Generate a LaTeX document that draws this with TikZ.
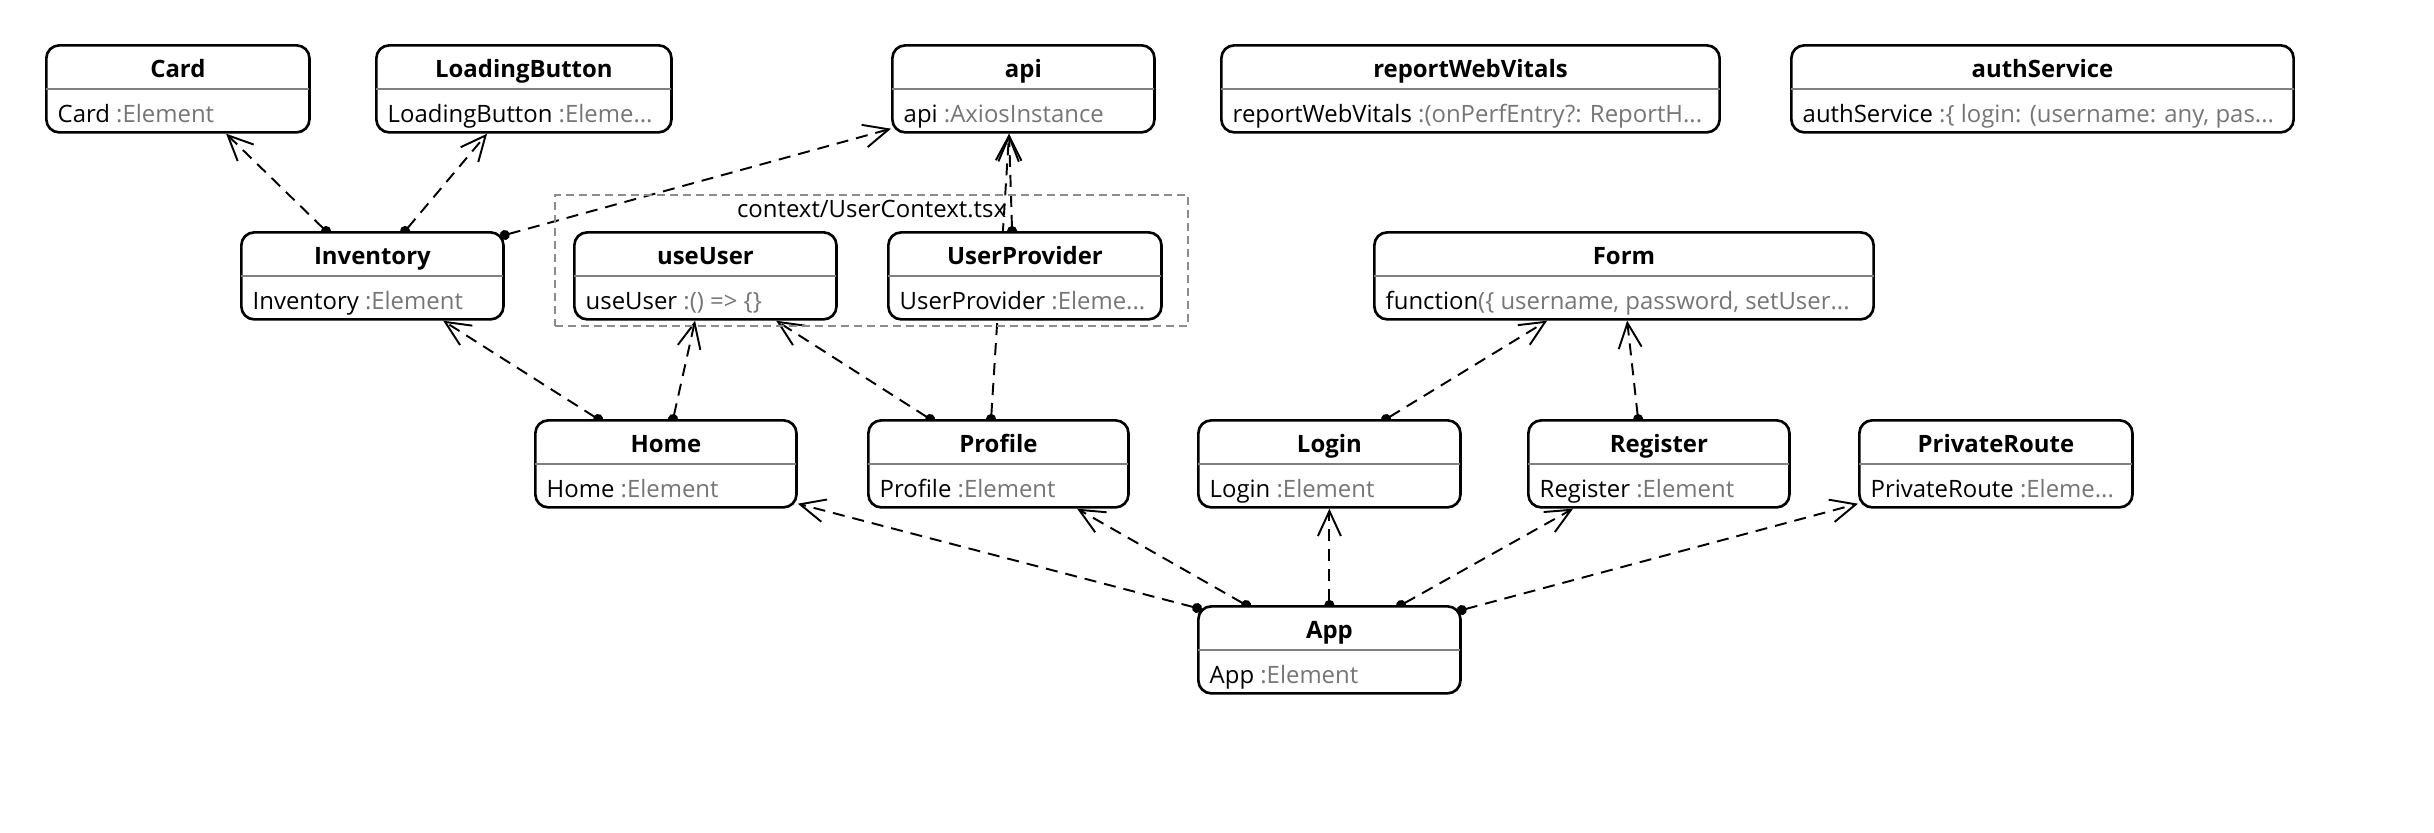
\documentclass[tikz,border=0pt]{standalone}
\usepackage{fontspec}
\setmainfont{Open Sans}
\usepackage{xcolor}
\usetikzlibrary{arrows.meta}
\usetikzlibrary{calc}

\definecolor{typegray}{HTML}{767676}
\definecolor{sepgray}{HTML}{808080}
\definecolor{groupgray}{HTML}{8C8C8C}

\pgfdeclarelayer{background}
\pgfsetlayers{background,main}

\tikzset{
  umlfont/.style={font=\fontsize{6.8}{8}\selectfont},
  classbox/.style={draw, line width=0.75pt, rounded corners=0.13cm, fill=white,
    minimum height=0.87cm, inner sep=0pt, anchor=north west},
  titletext/.style={font=\fontsize{6.8}{8}\selectfont\bfseries, anchor=base, inner sep=0pt},
  bodytext/.style={umlfont, anchor=base west, inner sep=0pt},
  sepline/.style={draw=sepgray, line width=0.75pt},
  grouptext/.style={umlfont, inner sep=0pt},
  groupbox/.style={draw=groupgray, dash pattern=on 0.8mm off 0.5mm, line width=0.5pt,
    inner sep=0pt, anchor=north west},
  uses/.style={dash pattern=on 1.2mm off 0.8mm, line width=0.55pt,
    {Circle[length=1mm]}-{Straight Barb[length=2.5mm,width=2.3mm]}, shorten <=-0.5mm},
}

% name, x, y, width, title, value, type
\newcommand{\classbox}[7]{%
  \node[classbox, minimum width=#4cm] (#1) at (#2,#3) {};
  \node[titletext] (#1title) at ([yshift=-0.33cm]#1.north) {#5};
  \draw[sepline] ([yshift=-0.45cm,xshift=0.4pt]#1.north west) -- ([yshift=-0.45cm,xshift=-0.4pt]#1.north east);
  \node[bodytext] (#1body) at ([xshift=0.12cm,yshift=0.11cm]#1.south west) {#6\textcolor{typegray}{#7}};
}

\begin{document}
\begin{tikzpicture}[x=0.01cm, y=-0.01cm, umlfont]
  \useasboundingbox (0,0) rectangle (2434,832);

  % file group
  \node[groupbox, minimum width=6.33cm, minimum height=1.31cm] (usercontext) at (554,194) {};
  \node[grouptext] (usercontextlabel) at ([yshift=-0.15cm]usercontext.north) {context/UserContext.tsx};

  % top row
  \classbox{card}{45}{44}{2.63}{Card}{Card }{:Element}
  \classbox{loadingbutton}{375}{44}{2.95}{LoadingButton}{LoadingButton }{:Eleme...}
  \classbox{api}{891}{44}{2.62}{api}{api }{:AxiosInstance}
  \classbox{reportwebvitals}{1220}{44}{4.98}{reportWebVitals}{reportWebVitals }{:(onPerfEntry?: ReportH...}
  \classbox{authservice}{1790}{44}{5.02}{authService}{authService }{:\{ login: (username: any, pas...}

  % middle row
  \classbox{inventory}{240}{231}{2.62}{Inventory}{Inventory }{:Element}
  \classbox{useuser}{573}{231}{2.62}{useUser}{useUser }{:() => \{\}}
  \classbox{userprovider}{887}{231}{2.73}{UserProvider}{UserProvider }{:Eleme...}
  \classbox{form}{1373}{231}{4.99}{Form}{function}{(\{ username, password, setUser...}

  % pages
  \classbox{home}{534}{419}{2.61}{Home}{Home }{:Element}
  \classbox{profile}{867}{419}{2.60}{Profile}{Profile }{:Element}
  \classbox{login}{1197}{419}{2.62}{Login}{Login }{:Element}
  \classbox{register}{1527}{419}{2.61}{Register}{Register }{:Element}
  \classbox{privateroute}{1858}{419}{2.73}{PrivateRoute}{PrivateRoute }{:Eleme...}

  % app
  \classbox{app}{1197}{605}{2.62}{App}{App }{:Element}

  % dependencies
  \begin{pgfonlayer}{background}
    \draw[uses] ([xshift=0.86cm]inventory.north west) -- ([xshift=1.81cm]card.south west);
    \draw[uses] ([xshift=1.65cm]inventory.north west) -- ([xshift=1.12cm]loadingbutton.south west);
    \draw[uses] ([yshift=-0.04cm]inventory.north east) -- ([yshift=0.05cm]api.south west);
    \draw[uses] ([xshift=1.25cm]userprovider.north west) -- ([xshift=1.18cm]api.south west);
    \draw[uses] ([xshift=1.24cm]profile.north west) -- ([xshift=1.18cm]api.south west);
    \draw[uses] ([xshift=0.64cm]home.north west) -- ([xshift=2.03cm]inventory.south west);
    \draw[uses] ([xshift=1.39cm]home.north west) -- ([xshift=1.22cm]useuser.south west);
    \draw[uses] ([xshift=0.63cm]profile.north west) -- ([xshift=2.03cm]useuser.south west);
    \draw[uses] ([xshift=1.89cm]login.north west) -- ([xshift=1.74cm]form.south west);
    \draw[uses] ([xshift=1.11cm]register.north west) -- ([xshift=2.54cm]form.south west);
    \draw[uses] ([yshift=-0.03cm]app.north west) -- ([yshift=0.05cm]home.south east);
    \draw[uses] ([xshift=0.49cm]app.north west) -- ([xshift=2.10cm]profile.south west);
    \draw[uses] (app.north) -- (login.south);
    \draw[uses] ([xshift=2.04cm]app.north west) -- ([xshift=0.46cm]register.south west);
    \draw[uses] ([yshift=-0.05cm]app.north east) -- ([yshift=0.05cm]privateroute.south west);
  \end{pgfonlayer}
\end{tikzpicture}
\end{document}
